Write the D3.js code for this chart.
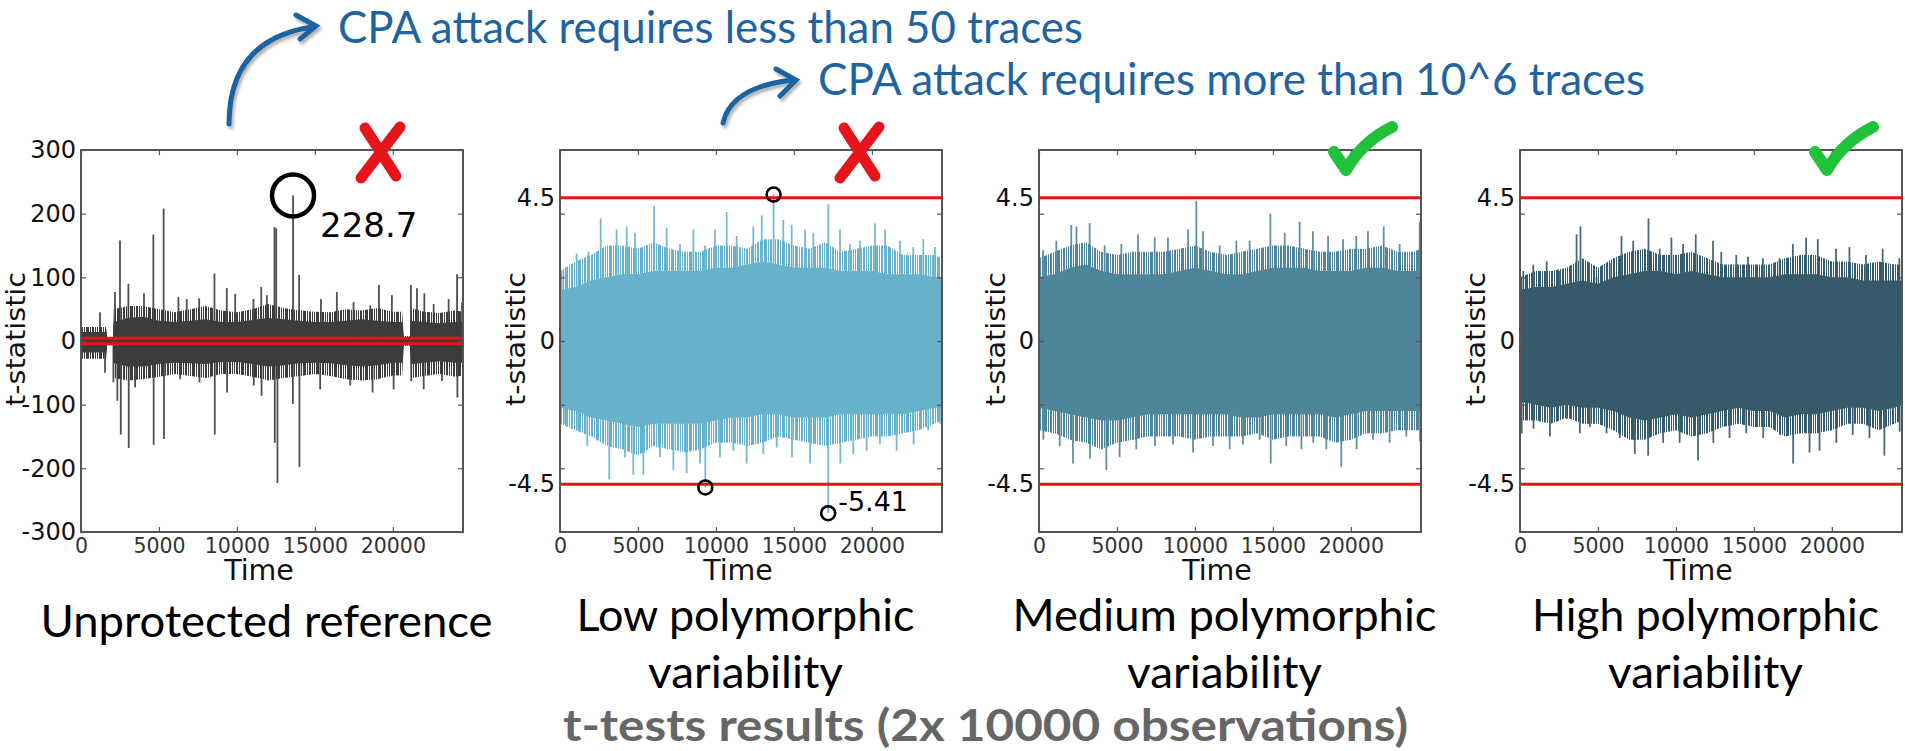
<!DOCTYPE html>
<html>
<head>
<meta charset="utf-8">
<script src="https://cdn.jsdelivr.net/npm/d3@7"></script>
<style>
  html, body { margin: 0; padding: 0; background: #fff; overflow: hidden; }
  svg { display: block; }
</style>
</head>
<body>
<svg id="chart" width="1905" height="751"></svg>
<script>
// ---- values ----
var xMax = 24500;
var xTicks = [0, 5000, 10000, 15000, 20000];
var p1YTicks = [-300, -200, -100, 0, 100, 200, 300];
var polyYLabels = [-4.5, 0, 4.5];
var polyYTickMarks = [-4, -2, 0, 2, 4];
var threshold = 4.5;

var titles = ["CPA attack requires less than 50 traces", "CPA attack requires more than 10^6 traces"];
var footer = "t-tests results (2x 10000 observations)";
var subtitles = [["Unprotected reference"], ["Low polymorphic", "variability"],
                 ["Medium polymorphic", "variability"], ["High polymorphic", "variability"]];
var verdicts = ["fail", "fail", "pass", "pass"];

// unprotected reference: envelope of the dense band + single spikes
var p1Grid = [0, 1600, 1700, 2050, 2100, 3000, 4000, 5000, 6000, 7000, 8000, 9000, 10000, 11000, 12000, 13000,
  14000, 15000, 16000, 17000, 18000, 19000, 20000, 20600, 20700, 21100, 21200, 22000, 23000, 24000, 24500];
var p1CoreHi = [14, 14, 4, 4, 30, 36, 38, 32, 30, 32, 34, 30, 30, 33, 36, 34, 32, 30, 30, 32, 34, 32, 30, 30, 5, 5, 32, 30, 28, 30, 30];
var p1FringeHi = [22, 22, 6, 6, 50, 55, 55, 50, 45, 50, 55, 48, 45, 50, 58, 52, 48, 46, 45, 50, 48, 52, 46, 46, 8, 8, 52, 46, 44, 48, 46];
var p1CoreLo = [-18, -18, -4, -4, -35, -40, -40, -36, -34, -35, -36, -33, -33, -36, -40, -38, -35, -34, -35, -38, -40, -38, -34, -34, -5, -5, -36, -34, -32, -34, -34];
var p1FringeLo = [-28, -28, -6, -6, -58, -62, -60, -56, -52, -55, -58, -52, -52, -56, -62, -58, -55, -52, -55, -60, -62, -60, -54, -54, -8, -8, -58, -55, -52, -56, -54];
var p1Spikes = [[1220, 45], [1540, -50], [2080, -65], [2180, 77], [2330, -94], [2500, 158], [2550, -147], [3040, 90],
  [3060, -168], [3470, -73], [4040, 75], [4640, 167], [4660, -163], [5300, 208], [5320, -154], [6250, 69], [6360, -60],
  [6780, 66], [7580, 67], [7600, -65], [8560, 106], [8580, -147], [9350, 83], [9370, -81], [9890, 74], [11060, 66],
  [11080, -70], [11560, 85], [11580, -86], [11920, 72], [12410, 179], [12430, -160], [12520, 177], [12600, -223],
  [13600, 228.7], [13590, -99], [13990, 104], [14010, -198], [15340, -76], [15390, 66], [16410, 77], [17270, -70],
  [17480, 61], [18550, 56], [18700, -81], [19110, 88], [19940, 72], [20050, -76], [21160, 88], [21180, -63],
  [21550, 83], [21980, -76], [22020, 75], [22620, 58], [23150, -63], [23580, 66], [24120, 105], [24140, -89], [24440, 61]];
var p1Marked = [[13600, 228.7]];

// shared time grid for the three polymorphic runs
var polyGrid = [0, 1000, 2000, 3000, 4000, 5000, 6000, 7000, 8000, 9000, 10000, 11000, 12000, 13000,
  14000, 15000, 16000, 17000, 18000, 19000, 20000, 21000, 22000, 23000, 24000, 24500];

var p2CoreHi = [1.6, 1.7, 1.9, 2.0, 2.1, 2.1, 2.2, 2.2, 2.2, 2.2, 2.3, 2.3, 2.4, 2.5, 2.4, 2.3, 2.3, 2.3, 2.2, 2.2, 2.2, 2.1, 2.1, 2.1, 2.0, 2.0];
var p2FringeHi = [2.2, 2.5, 2.7, 3.0, 3.0, 2.9, 3.1, 2.9, 2.8, 2.8, 3.0, 3.0, 2.9, 3.2, 3.2, 3.0, 2.9, 3.1, 2.8, 2.9, 3.0, 3.0, 2.7, 2.7, 2.7, 2.6];
var p2CoreLo = [-2.1, -2.2, -2.4, -2.5, -2.6, -2.7, -2.6, -2.6, -2.6, -2.6, -2.5, -2.4, -2.4, -2.3, -2.3, -2.4, -2.4, -2.4, -2.3, -2.3, -2.3, -2.3, -2.3, -2.2, -2.1, -2.1];
var p2FringeLo = [-2.6, -2.8, -3.0, -3.3, -3.4, -3.6, -3.3, -3.4, -3.5, -3.4, -3.2, -3.2, -3.3, -3.2, -3.0, -3.1, -3.2, -3.3, -3.2, -3.1, -3.0, -3.0, -2.9, -2.8, -2.6, -2.5];
var p2Spikes = [[210, 2.2], [1070, 2.75], [1820, 2.8], [2610, 3.85], [3630, 3.5], [4280, 3.6], [4810, 3.4], [6030, 4.25],
  [6840, 3.55], [7700, 3.05], [8550, 3.5], [9300, 3.0], [9940, 3.5], [10690, 4.05], [11330, 3.3], [12400, 3.6],
  [12940, 3.95], [13700, 4.6], [14320, 3.8], [14860, 3.65], [15720, 3.5], [16250, 3.4], [17210, 4.3], [17960, 3.5],
  [18600, 3.05], [19240, 3.15], [20200, 3.7], [20850, 3.5], [21810, 3.15], [22660, 2.95], [23300, 3.2], [24050, 2.95],
  [320, -2.6], [1090, -2.8], [1750, -3.3], [3160, -4.35], [4170, -3.65], [4700, -4.2], [5350, -4.2], [6410, -3.65],
  [7270, -4.05], [8120, -4.15], [8980, -3.85], [9320, -4.6], [10260, -3.65], [11120, -3.45], [11970, -3.85],
  [13040, -3.55], [13900, -3.35], [14880, -3.65], [16040, -3.85], [17200, -5.41], [17980, -3.85], [18810, -3.55],
  [19670, -3.45], [20520, -3.25], [21590, -3.45], [22680, -3.25], [23620, -2.8], [24370, -2.6]];
var p2Marked = [[13700, 4.6], [9320, -4.6], [17200, -5.41]];

var p3CoreHi = [2.0, 2.1, 2.3, 2.4, 2.2, 2.1, 2.1, 2.1, 2.1, 2.2, 2.3, 2.2, 2.1, 2.1, 2.2, 2.3, 2.3, 2.3, 2.2, 2.2, 2.2, 2.3, 2.3, 2.2, 2.2, 2.2];
var p3FringeHi = [2.6, 2.8, 3.0, 3.1, 2.8, 2.7, 2.8, 2.8, 2.8, 2.9, 3.0, 2.8, 2.7, 2.8, 2.9, 3.0, 3.0, 2.9, 2.8, 2.8, 2.9, 2.9, 3.0, 2.8, 2.8, 2.9];
var p3CoreLo = [-2.1, -2.2, -2.3, -2.4, -2.5, -2.5, -2.4, -2.3, -2.3, -2.3, -2.3, -2.3, -2.3, -2.4, -2.4, -2.3, -2.3, -2.3, -2.3, -2.4, -2.3, -2.2, -2.2, -2.2, -2.2, -2.2];
var p3FringeLo = [-2.8, -2.9, -3.1, -3.2, -3.4, -3.2, -3.1, -3.0, -3.0, -3.0, -3.1, -3.0, -3.0, -3.0, -2.9, -3.1, -3.0, -3.0, -3.0, -3.2, -3.1, -2.9, -2.9, -2.8, -2.8, -2.8];
var p3Spikes = [[260, 2.85], [1110, 3.15], [2070, 3.65], [2400, 3.6], [3250, 3.7], [4210, 3.0], [5280, 3.05], [6350, 3.35],
  [7420, 3.25], [8270, 3.25], [9560, 3.5], [10090, 4.4], [10520, 3.45], [11590, 3.0], [12660, 3.15], [13510, 3.15],
  [14840, 4.0], [15760, 3.4], [16720, 3.75], [17570, 3.45], [18540, 3.3], [19500, 3.2], [20350, 3.3], [21100, 3.45],
  [22110, 3.6], [23130, 3.05], [24420, 3.75],
  [280, -3.1], [1330, -3.3], [2180, -3.85], [3270, -3.7], [4320, -4.05], [5170, -3.65], [6240, -3.4], [7440, -3.3],
  [8590, -3.25], [9880, -3.5], [11160, -3.3], [12230, -3.4], [13080, -3.25], [14150, -3.1], [14860, -3.85],
  [15860, -3.3], [16830, -3.4], [17590, -3.2], [18430, -3.4], [19390, -3.95], [20370, -3.4], [21420, -3.1],
  [22490, -3.2], [23560, -3.0], [24440, -3.15]];

var p4CoreHi = [1.6, 1.7, 1.7, 1.8, 1.9, 1.8, 2.0, 2.1, 2.2, 2.2, 2.1, 2.2, 2.1, 2.0, 2.0, 2.0, 2.0, 2.1, 2.1, 2.1, 2.0, 2.0, 1.9, 1.9, 1.9, 1.9];
var p4FringeHi = [2.0, 2.2, 2.2, 2.3, 2.6, 2.3, 2.6, 2.8, 2.9, 2.7, 2.7, 2.8, 2.6, 2.4, 2.4, 2.4, 2.4, 2.6, 2.7, 2.7, 2.5, 2.5, 2.4, 2.5, 2.4, 2.4];
var p4CoreLo = [-1.9, -2.0, -2.1, -2.0, -2.1, -2.1, -2.2, -2.4, -2.5, -2.4, -2.3, -2.4, -2.3, -2.2, -2.1, -2.2, -2.2, -2.4, -2.3, -2.3, -2.2, -2.1, -2.1, -2.2, -2.1, -2.0];
var p4FringeLo = [-2.5, -2.5, -2.6, -2.4, -2.6, -2.6, -2.8, -3.1, -3.1, -2.9, -2.8, -3.0, -2.9, -2.7, -2.6, -2.7, -2.7, -3.0, -2.9, -2.9, -2.8, -2.6, -2.6, -2.8, -2.6, -2.5];
var p4Spikes = [[210, 2.2], [850, 2.4], [1710, 2.5], [2560, 2.2], [3630, 3.35], [3880, 3.6], [4910, 2.0], [5760, 2.45],
  [6510, 3.3], [7260, 3.15], [8240, 3.85], [8960, 2.9], [9710, 3.25], [10460, 3.05], [11270, 3.35], [12380, 3.15],
  [12910, 2.8], [13870, 2.7], [14620, 2.65], [15580, 2.6], [16650, 2.6], [17500, 3.05], [18350, 3.25], [19100, 3.2],
  [20270, 2.9], [21130, 2.95], [22190, 2.7], [23260, 2.9], [24330, 2.6],
  [110, -2.9], [870, -2.75], [1920, -3.0], [2990, -2.45], [3840, -2.9], [4480, -2.7], [5550, -2.9], [6400, -3.05],
  [7360, -3.55], [8220, -3.6], [9180, -3.2], [10240, -3.2], [11420, -3.75], [12400, -3.2], [13440, -3.05],
  [14510, -2.9], [15600, -3.05], [16670, -2.95], [17520, -3.85], [18570, -3.5], [19210, -3.45], [20290, -3.2],
  [21340, -2.95], [22410, -3.05], [23370, -3.6], [24350, -2.85]];

// ---- layout ----
var plotW = 382, plotTop = 150, plotBottom = 532;
var tickFont = "'DejaVu Sans', Verdana, sans-serif";
var textFont = "Lato, 'Open Sans', sans-serif";

var panels = [
  {left: 81, grid: p1Grid, coreHi: p1CoreHi, coreLo: p1CoreLo, fringeHi: p1FringeHi, fringeLo: p1FringeLo,
   spikes: p1Spikes, marked: p1Marked, color: "#3c3c3c", yDomain: [-300, 300], yLabels: p1YTicks, yMarks: p1YTicks,
   circleR: 21, circleW: 4.5, labelDx: 27, labelDy: 42, labelSize: 34, labelIdx: 0, ylabelGap: 56,
   subBase: [637], subLen: [452]},
  {left: 560, grid: polyGrid, coreHi: p2CoreHi, coreLo: p2CoreLo, fringeHi: p2FringeHi, fringeLo: p2FringeLo,
   spikes: p2Spikes, marked: p2Marked, color: "#67b2cb", yDomain: [-6, 6], yLabels: polyYLabels, yMarks: polyYTickMarks,
   circleR: 7, circleW: 2.6, labelDx: 10, labelDy: -2, labelSize: 27, labelIdx: 2, ylabelGap: 35,
   subBase: [631, 688], subLen: [338, 195]},
  {left: 1039, grid: polyGrid, coreHi: p3CoreHi, coreLo: p3CoreLo, fringeHi: p3FringeHi, fringeLo: p3FringeLo,
   spikes: p3Spikes, marked: [], color: "#4e8598", yDomain: [-6, 6], yLabels: polyYLabels, yMarks: polyYTickMarks,
   ylabelGap: 34, subBase: [631, 688], subLen: [424, 195]},
  {left: 1520, grid: polyGrid, coreHi: p4CoreHi, coreLo: p4CoreLo, fringeHi: p4FringeHi, fringeLo: p4FringeLo,
   spikes: p4Spikes, marked: [], color: "#355a69", yDomain: [-6, 6], yLabels: polyYLabels, yMarks: polyYTickMarks,
   ylabelGap: 35, subBase: [631, 688], subLen: [347, 195]}
];

var svg = d3.select("#chart");
var defs = svg.append("defs");

defs.append("filter").attr("id", "shadow").attr("x", "-20%").attr("y", "-20%").attr("width", "150%").attr("height", "150%")
  .append("feDropShadow").attr("dx", 2).attr("dy", 3).attr("stdDeviation", 1.5)
  .attr("flood-color", "#000").attr("flood-opacity", 0.3);

// uneven vertical hatching to mimic a forest of thin trace lines in the outer band
var hatchPeriod = 31;
var hatch = [[0, 2], [3, 1], [5, 3], [9, 1], [11, 2], [14, 1], [16, 1], [18, 3], [22, 1], [24, 2], [27, 1], [29, 1]];

var plain = function(d) { return String(d); };

panels.forEach(function(p, i) {
  var x = d3.scaleLinear().domain([0, xMax]).range([p.left, p.left + plotW]);
  var y = d3.scaleLinear().domain(p.yDomain).range([plotBottom, plotTop]);
  var g = svg.append("g").attr("class", "panel");

  defs.append("clipPath").attr("id", "clip" + i)
    .append("rect").attr("x", p.left).attr("y", plotTop).attr("width", plotW).attr("height", plotBottom - plotTop);

  var pat = defs.append("pattern").attr("id", "hatch" + i).attr("patternUnits", "userSpaceOnUse")
    .attr("x", p.left).attr("width", hatchPeriod).attr("height", 20);
  pat.selectAll("rect").data(hatch).join("rect")
    .attr("x", function(d) { return d[0]; }).attr("width", function(d) { return d[1]; })
    .attr("height", 20).attr("fill", p.color);

  var rows = p.grid.map(function(t, k) {
    return {t: t, ch: p.coreHi[k], cl: p.coreLo[k], fh: p.fringeHi[k], fl: p.fringeLo[k]};
  });

  var plot = g.append("g").attr("clip-path", "url(#clip" + i + ")");

  // outer jagged band
  plot.append("path").datum(rows)
    .attr("d", d3.area().x(function(d) { return x(d.t); })
      .y0(function(d) { return y(d.fl); }).y1(function(d) { return y(d.fh); }))
    .attr("fill", "url(#hatch" + i + ")");

  // dense core
  plot.append("path").datum(rows)
    .attr("d", d3.area().x(function(d) { return x(d.t); })
      .y0(function(d) { return y(d.cl); }).y1(function(d) { return y(d.ch); }))
    .attr("fill", p.color);

  // single spikes
  plot.selectAll("line.spike").data(p.spikes).join("line")
    .attr("class", "spike")
    .attr("x1", function(d) { return x(d[0]); }).attr("x2", function(d) { return x(d[0]); })
    .attr("y1", y(0)).attr("y2", function(d) { return y(d[1]); })
    .attr("stroke", p.color).attr("stroke-width", 1.8).attr("opacity", 0.9);

  // +-4.5 thresholds
  plot.selectAll("line.thr").data([threshold, -threshold]).join("line")
    .attr("class", "thr")
    .attr("x1", x(0)).attr("x2", x(xMax))
    .attr("y1", function(d) { return y(d); }).attr("y2", function(d) { return y(d); })
    .attr("stroke", "#ee1111").attr("stroke-width", 3);

  // axes (matplotlib classic: inward ticks on all sides)
  var bottom = g.append("g").attr("transform", "translate(0," + plotBottom + ")")
    .call(d3.axisBottom(x).tickValues(xTicks).tickFormat(plain).tickSizeInner(-5).tickSizeOuter(0).tickPadding(6));
  bottom.selectAll("text").attr("font-family", tickFont).attr("font-size", 20.5).attr("fill", "#333");
  var marks = g.append("g");
  marks.append("g").attr("transform", "translate(0," + plotTop + ")")
    .call(d3.axisTop(x).tickValues(xTicks).tickSizeInner(-5).tickSizeOuter(0));
  marks.append("g").attr("transform", "translate(" + p.left + ",0)")
    .call(d3.axisLeft(y).tickValues(p.yMarks).tickSizeInner(-5).tickSizeOuter(0));
  marks.append("g").attr("transform", "translate(" + (p.left + plotW) + ",0)")
    .call(d3.axisRight(y).tickValues(p.yMarks).tickSizeInner(-5).tickSizeOuter(0));
  marks.selectAll("text").remove();
  var left = g.append("g").attr("transform", "translate(" + p.left + ",0)")
    .call(d3.axisLeft(y).tickValues(p.yLabels).tickFormat(plain).tickSize(0).tickPadding(5));
  left.selectAll("text").attr("font-family", tickFont).attr("font-size", 24).attr("fill", "#111");
  g.selectAll(".domain").remove();
  g.selectAll(".tick line").attr("stroke", "#555").attr("stroke-width", 1.2);

  g.append("rect").attr("x", p.left).attr("y", plotTop).attr("width", plotW).attr("height", plotBottom - plotTop)
    .attr("fill", "none").attr("stroke", "#555").attr("stroke-width", 2);

  // marked extremes
  g.selectAll("circle.mark").data(p.marked).join("circle")
    .attr("class", "mark")
    .attr("cx", function(d) { return x(d[0]); }).attr("cy", function(d) { return y(d[1]); })
    .attr("r", p.circleR).attr("fill", "none").attr("stroke", "#000").attr("stroke-width", p.circleW);
  if (p.marked.length) {
    var m = p.marked[p.labelIdx];
    g.append("text").attr("x", x(m[0]) + p.labelDx).attr("y", y(m[1]) + p.labelDy)
      .attr("font-family", tickFont).attr("font-size", p.labelSize).attr("fill", "#000")
      .text(plain(m[1]));
  }

  // axis titles
  var cx = p.left + plotW / 2;
  g.append("text").attr("x", cx - 13).attr("y", 580).attr("text-anchor", "middle")
    .attr("font-family", tickFont).attr("font-size", 28.5).attr("fill", "#111").text("Time");
  g.append("text").attr("transform", "translate(" + (p.left - p.ylabelGap) + ",339) rotate(-90)")
    .attr("text-anchor", "middle").attr("font-family", tickFont).attr("font-size", 26)
    .attr("textLength", 134).attr("lengthAdjust", "spacingAndGlyphs")
    .attr("fill", "#111").text("t-statistic");

  // run description
  subtitles[i].forEach(function(line, k) {
    g.append("text").attr("x", cx - 5.5).attr("y", p.subBase[k]).attr("text-anchor", "middle")
      .attr("font-family", textFont).attr("font-size", 44).attr("fill", "#000")
      .attr("textLength", p.subLen[k]).attr("lengthAdjust", "spacingAndGlyphs").text(line);
  });

  // verdict marks
  if (verdicts[i] === "fail") {
    var vx = p.left + 300, vy = 153;
    g.append("path")
      .attr("d", "M" + (vx - 16) + "," + (vy - 25) + "L" + (vx + 15) + "," + (vy + 23) +
                 "M" + (vx + 19) + "," + (vy - 26) + "L" + (vx - 20) + "," + (vy + 25))
      .attr("stroke", "#e8141b").attr("stroke-width", 11).attr("stroke-linecap", "round").attr("fill", "none");
  } else {
    var kx = p.left + 307, ky = 170;
    g.append("path")
      .attr("d", "M" + (kx - 12) + "," + (ky - 18) + "L" + kx + "," + ky +
                 "Q" + (kx + 16) + "," + (ky - 28) + " " + (kx + 46) + "," + (ky - 43))
      .attr("stroke", "#1fc23a").attr("stroke-width", 12).attr("stroke-linecap", "round")
      .attr("stroke-linejoin", "round").attr("fill", "none");
  }
});

// headline annotations with arrows
var arrows = svg.append("g").attr("filter", "url(#shadow)")
  .attr("stroke", "#1f64a1").attr("stroke-width", 5).attr("fill", "none").attr("stroke-linecap", "round");
arrows.append("path").attr("d", "M229,124 C229,72 252,36 312,27");
arrows.append("path").attr("d", "M296,15 L316,26 L300,39");
arrows.append("path").attr("d", "M723,123 C728,100 750,85 792,80");
arrows.append("path").attr("d", "M776,69 L796,80 L780,96");

svg.append("text").attr("x", 338).attr("y", 43)
  .attr("font-family", textFont).attr("font-size", 44).attr("fill", "#1f64a1")
  .attr("textLength", 745).attr("lengthAdjust", "spacingAndGlyphs").text(titles[0]);
svg.append("text").attr("x", 818).attr("y", 95)
  .attr("font-family", textFont).attr("font-size", 44).attr("fill", "#1f64a1")
  .attr("textLength", 827).attr("lengthAdjust", "spacingAndGlyphs").text(titles[1]);

svg.append("text").attr("x", 563).attr("y", 741)
  .attr("font-family", textFont).attr("font-size", 44).attr("font-weight", "bold").attr("fill", "#666")
  .attr("textLength", 845).attr("lengthAdjust", "spacingAndGlyphs").text(footer);
</script>
</body>
</html>
